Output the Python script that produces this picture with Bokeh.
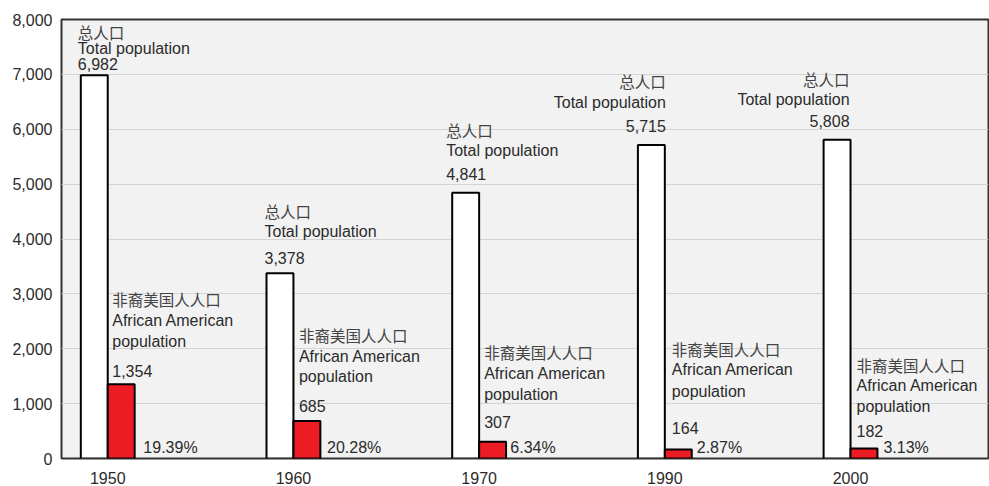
from bokeh.plotting import figure
from bokeh.models import ColumnDataSource, FixedTicker, NumeralTickFormatter, Range1d
from bokeh.core.properties import value
from bokeh.embed import file_html
from bokeh.resources import INLINE

# ---------------- data ----------------
years = ["1950", "1960", "1970", "1990", "2000"]
total_pop = [6982, 3378, 4841, 5715, 5808]
african_pop = [1354, 685, 307, 164, 182]
african_share = ["19.39%", "20.28%", "6.34%", "2.87%", "3.13%"]
total_cn = "总人口"
total_en = "Total population"
afr_cn = "非裔美国人人口"
afr_en1 = "African American"
afr_en2 = "population"
y_ticks = [0, 1000, 2000, 3000, 4000, 5000, 6000, 7000, 8000]

# ---------------- label layout (pixels) ----------------
tot_val_off = [11.4, 15, 19, 19.3, 18.3]
tot_en_off = [27, 41.6, 42.4, 42.6, 40]
tot_cn_off = [43, 62.6, 62.4, 63.6, 61]
tot_dx = [-3, -2, -6, 1, -1]
tot_align = ["left", "left", "left", "right", "right"]
afr_val_off = [13.6, 15, 19.4, 21.7, 17.3]
afr_pop_off = [42.6, 44.3, 46.7, 58.3, 42.3]
afr_en_off = [63.6, 64.3, 67.7, 80, 63.3]
afr_cn_off = [85, 86, 90, 101, 84]
afr_dx = [4.5, 5.5, 5, 7, 6]
pct_dx = [8.7, 6.7, 4.3, 5, 6]

W = 0.145
TXT = "#2b2b2b"
TXT_CJK = "#444444"
LATIN = value("Liberation Sans")
CJK = value("Noto Sans CJK SC")
FS = "16px"
FS_CJK = "15.5px"

idx = list(range(len(years)))

p = figure(width=989, height=486, output_backend="svg", toolbar_location=None,
           x_range=Range1d(-0.249, 4.743), y_range=Range1d(0, 8000),
           min_border_left=61, min_border_right=1, min_border_top=19, min_border_bottom=28)
p.background_fill_color = "#f2f2f2"
p.border_fill_color = "white"
p.outline_line_color = "#333333"
p.outline_line_width = 2

p.xgrid.grid_line_color = None
p.ygrid.grid_line_color = "#d4d4d4"
p.ygrid.grid_line_width = 1

p.yaxis.ticker = FixedTicker(ticks=y_ticks)
p.yaxis.formatter = NumeralTickFormatter(format="0,0")
p.xaxis.ticker = FixedTicker(ticks=idx)
p.xaxis.major_label_overrides = {i: y for i, y in zip(idx, years)}
for ax in (p.xaxis, p.yaxis):
    ax.axis_line_color = None
    ax.major_tick_line_color = None
    ax.minor_tick_line_color = None
    ax.major_tick_out = 0
    ax.major_tick_in = 0
    ax.major_label_text_font = "Liberation Sans"
    ax.major_label_text_font_size = FS
    ax.major_label_text_color = TXT
p.yaxis.major_label_standoff = 9
p.xaxis.major_label_standoff = 13

# bars
src = ColumnDataSource(dict(
    xw=[i - W / 2 for i in idx], xr=[i + W / 2 for i in idx],
    total=total_pop, afr=african_pop))
p.vbar(x="xw", top="total", bottom=0, width=W, source=src,
       fill_color="white", line_color="black", line_width=2)
p.vbar(x="xr", top="afr", bottom=0, width=W, source=src,
       fill_color="#ed1c24", line_color="black", line_width=2)

# total labels
for align in ("left", "right"):
    sel = [i for i in idx if tot_align[i] == align]
    xs = [(i - W) if align == "left" else i for i in sel]
    for txt, offs, font, fs, col in (
            ([f"{total_pop[i]:,}" for i in sel], tot_val_off, LATIN, FS, TXT),
            ([total_en for i in sel], tot_en_off, LATIN, FS, TXT),
            ([total_cn for i in sel], tot_cn_off, CJK, FS_CJK, TXT_CJK)):
        s = ColumnDataSource(dict(x=xs, y=[total_pop[i] for i in sel], t=txt,
                                  dx=[tot_dx[i] for i in sel],
                                  dy=[-offs[i] for i in sel]))
        p.text(x="x", y="y", text="t", x_offset="dx", y_offset="dy", source=s,
               text_font=font, text_font_size=fs, text_color=col,
               text_align=align, text_baseline="middle")

# african american labels
for txt, offs, font, fs, col in (
        ([f"{v:,}" for v in african_pop], afr_val_off, LATIN, FS, TXT),
        ([afr_en2] * len(idx), afr_pop_off, LATIN, FS, TXT),
        ([afr_en1] * len(idx), afr_en_off, LATIN, FS, TXT),
        ([afr_cn] * len(idx), afr_cn_off, CJK, FS_CJK, TXT_CJK)):
    s = ColumnDataSource(dict(x=idx, y=african_pop, t=txt, dx=afr_dx,
                              dy=[-o for o in offs]))
    p.text(x="x", y="y", text="t", x_offset="dx", y_offset="dy", source=s,
           text_font=font, text_font_size=fs, text_color=col,
           text_align="left", text_baseline="middle")

# share labels
s = ColumnDataSource(dict(x=[i + W for i in idx], y=[0] * len(idx), t=african_share, dx=pct_dx))
p.text(x="x", y="y", text="t", x_offset="dx", y_offset=-11.5, source=s,
       text_font=LATIN, text_font_size=FS, text_color=TXT,
       text_align="left", text_baseline="middle")

open("out.html", "w").write(file_html(p, INLINE))
